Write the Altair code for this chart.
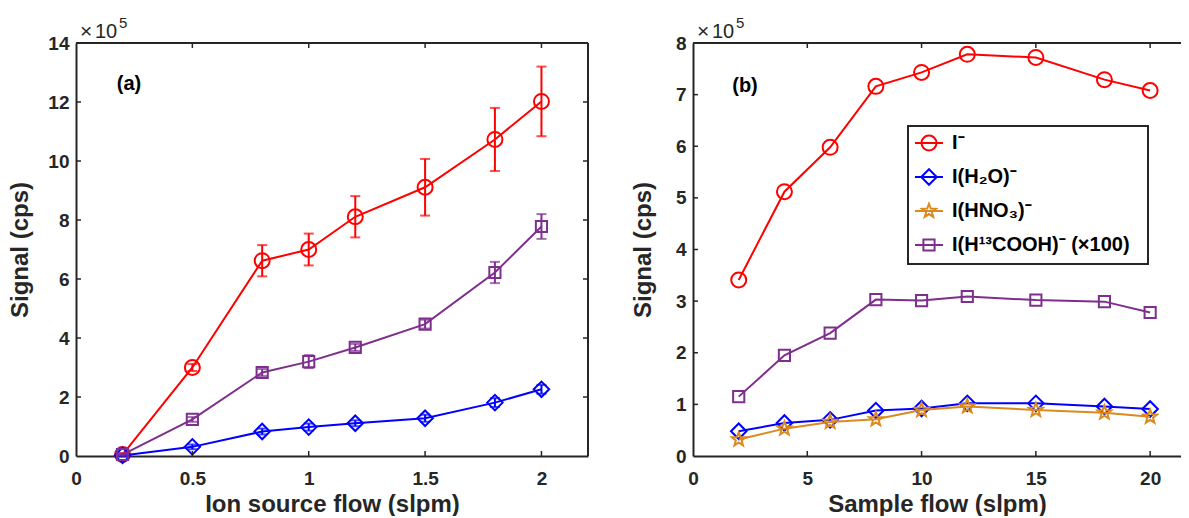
import math
import altair as alt
import pandas as pd

# ---------------- data ----------------
SERIES = ["I⁻", "I(H₂O)⁻", "I(HNO₃)⁻", "I(H¹³COOH)⁻ (×100)"]
COLORS = ["#FF0000", "#0000FF", "#DA8A1E", "#7E2F8E"]

# five-point star outline inside the [-1, 1] box (custom symbol shape)
_pts = []
for _k in range(10):
    _r = 1.0 if _k % 2 == 0 else 0.42
    _a = math.radians(-90 + 36 * _k)
    _pts.append("%.3f,%.3f" % (_r * math.cos(_a), _r * math.sin(_a)))
STAR = "M" + "L".join(_pts) + "Z"

SHAPES = ["circle", "diamond", STAR, "square"]
SIZES = [225, 240, 210, 125]

# panel (a): ion source flow (slpm), signal in units of 1e5 cps
a_x = [0.2, 0.5, 0.8, 1.0, 1.2, 1.5, 1.8, 2.0]
a_I = [0.05, 3.0, 6.62, 7.0, 8.11, 9.11, 10.73, 12.02]
a_I_err = [0.05, 0.12, 0.53, 0.54, 0.70, 0.96, 1.07, 1.18]
a_H2O = [0.02, 0.31, 0.83, 0.98, 1.11, 1.28, 1.81, 2.26]
a_H2O_err = [0.03, 0.08, 0.10, 0.12, 0.10, 0.12, 0.15, 0.15]
a_HCOOH = [0.05, 1.24, 2.83, 3.20, 3.68, 4.47, 6.22, 7.78]
a_HCOOH_err = [0.03, 0.08, 0.12, 0.22, 0.12, 0.15, 0.36, 0.42]

# panel (b): sample flow (slpm)
b_x = [2, 4, 6, 8, 10, 12, 15, 18, 20]
b_I = [3.41, 5.12, 5.98, 7.16, 7.43, 7.78, 7.72, 7.29, 7.08]
b_H2O = [0.48, 0.64, 0.70, 0.88, 0.92, 1.02, 1.02, 0.96, 0.91]
b_HNO3 = [0.32, 0.53, 0.66, 0.71, 0.89, 0.96, 0.89, 0.84, 0.76]
b_HCOOH = [1.15, 1.95, 2.38, 3.03, 3.01, 3.09, 3.02, 2.99, 2.78]

a_xticks = [0, 0.5, 1, 1.5, 2]
a_yticks = [0, 2, 4, 6, 8, 10, 12, 14]
b_xticks = [0, 5, 10, 15, 20]
b_yticks = [0, 1, 2, 3, 4, 5, 6, 7, 8]

# ---------------- layout / style ----------------
FONT = "Liberation Sans"
AX = "#262626"
W1, W2, H = 512, 488, 413
GAP = 105                 # space between the two plot areas
X0A, X0B = 0, W1 + GAP    # left edges of the plot areas
WTOT = X0B + W2
TL = 5                    # inward tick length


def make_panel(x, series_list, xdom, ydom, xticks, yticks, x0, W, xaxis, yaxis, label,
               right_frame):
    xs = alt.Scale(domain=xdom, range=[x0, x0 + W], nice=False, zero=False)
    ys = alt.Scale(domain=ydom, range=[H, 0], nice=False, zero=False)
    X = lambda f: alt.X(f, scale=xs, axis=xaxis)
    Y = lambda f: alt.Y(f, scale=ys, axis=yaxis)
    layers = []
    for k, yv, err in series_list:
        rows = []
        for i, xv in enumerate(x):
            e = err[i] if err is not None else 0.0
            rows.append({"x": xv, "y": yv[i], "lo": yv[i] - e, "hi": yv[i] + e})
        df = pd.DataFrame(rows)
        base = alt.Chart(df)
        layers.append(base.mark_line(color=COLORS[k], strokeWidth=2).encode(
            x=X("x:Q"), y=Y("y:Q")))
        if err is not None:
            layers.append(base.mark_rule(color=COLORS[k], strokeWidth=2).encode(
                x=X("x:Q"), y=Y("lo:Q"), y2="hi:Q"))
            for f in ("lo", "hi"):
                layers.append(base.mark_tick(color=COLORS[k], orient="horizontal",
                                             size=10, thickness=2).encode(
                    x=X("x:Q"), y=Y(f + ":Q")))
        layers.append(base.mark_point(color=COLORS[k], shape=SHAPES[k], size=SIZES[k],
                                      filled=False, strokeWidth=2, opacity=1).encode(
            x=X("x:Q"), y=Y("y:Q")))

    xt = pd.DataFrame({"t": [v for v in xticks if v != 0]})
    yt = pd.DataFrame({"t": [v for v in yticks if v not in (ydom[0], ydom[1])]})
    one = pd.DataFrame({"k": [0]})
    layers.append(alt.Chart(xt).mark_rule(color=AX, strokeWidth=1.5).encode(
        x=X("t:Q"), y=alt.value(H), y2=alt.value(H - TL)))
    layers.append(alt.Chart(xt).mark_rule(color=AX, strokeWidth=1.5).encode(
        x=X("t:Q"), y=alt.value(0), y2=alt.value(TL)))
    layers.append(alt.Chart(yt).mark_rule(color=AX, strokeWidth=1.5).encode(
        y=Y("t:Q"), x=alt.value(x0), x2=alt.value(x0 + TL)))
    if right_frame:
        layers.append(alt.Chart(yt).mark_rule(color=AX, strokeWidth=1.5).encode(
            y=Y("t:Q"), x=alt.value(x0 + W), x2=alt.value(x0 + W - TL)))
        layers.append(alt.Chart(one).mark_rule(color=AX, strokeWidth=2).encode(
            x=alt.value(x0 + W), y=alt.value(0), y2=alt.value(H)))
    layers.append(alt.Chart(one).mark_rule(color=AX, strokeWidth=2).encode(
        x=alt.value(x0), x2=alt.value(x0 + W), y=alt.value(0)))

    def txt(s, px, py, size, weight="normal", align="left", baseline="alphabetic",
            color=AX):
        return alt.Chart(one).mark_text(font=FONT, fontSize=size, fontWeight=weight,
                                        color=color, align=align,
                                        baseline=baseline).encode(
            x=alt.value(x0 + px), y=alt.value(py), text=alt.value(s))

    layers.append(txt("×", 4, -5, 21))
    layers.append(txt("10", 19, -5, 20))
    layers.append(txt("5", 43, -15, 15))
    layers.append(txt(label[0], label[1], label[2], 20, "bold", "center", "middle", "#000000"))
    return layers, txt


ax_a_x = alt.Axis(values=a_xticks, format="~g", title="Ion source flow (slpm)",
                  orient="bottom")
ax_a_y = alt.Axis(values=a_yticks, format="d", title="Signal (cps)", titlePadding=15,
                  orient="left")
ax_b_x = alt.Axis(values=b_xticks, format="d", title="Sample flow (slpm)",
                  orient="bottom")
ax_b_y = alt.Axis(values=b_yticks, format="d", title="Signal (cps)", titlePadding=20,
                  orient="left", offset=-X0B)

left_layers, _ = make_panel(
    a_x, [(0, a_I, a_I_err), (1, a_H2O, a_H2O_err), (3, a_HCOOH, a_HCOOH_err)],
    [0, 2.2], [0, 14], a_xticks, a_yticks, X0A, W1, ax_a_x, ax_a_y, ("(a)", 53, 41), True)
right_layers, txt_b = make_panel(
    b_x, [(0, b_I, None), (1, b_H2O, None), (2, b_HNO3, None), (3, b_HCOOH, None)],
    [0, 21.35], [0, 8], b_xticks, b_yticks, X0B, W2, ax_b_x, ax_b_y, ("(b)", 52, 43), False)

# manual legend in panel (b)
one = pd.DataFrame({"k": [0]})
right_layers.append(alt.Chart(one).mark_rect(fill="white", stroke=AX, strokeWidth=2).encode(
    x=alt.value(X0B + 215), x2=alt.value(X0B + 455), y=alt.value(83), y2=alt.value(221)))
for i, nm in enumerate(SERIES):
    yy = 100 + 34 * i
    right_layers.append(alt.Chart(one).mark_rule(color=COLORS[i], strokeWidth=2).encode(
        x=alt.value(X0B + 222), x2=alt.value(X0B + 250), y=alt.value(yy)))
    right_layers.append(alt.Chart(one).mark_point(filled=False, strokeWidth=2, opacity=1,
                                                  color=COLORS[i], shape=SHAPES[i],
                                                  size=SIZES[i]).encode(
        x=alt.value(X0B + 236), y=alt.value(yy)))
    right_layers.append(txt_b(nm, 259, yy, 20, "bold", "left", "middle", "#000000"))

panel_a = alt.layer(*left_layers)
panel_b = alt.layer(*right_layers)

chart = (
    alt.layer(panel_a, panel_b)
    .resolve_scale(x="independent", y="independent")
    .resolve_axis(x="independent", y="independent")
    .properties(
        width=WTOT, height=H,
        autosize=alt.AutoSizeParams(type="none"),
        padding={"left": 68, "top": 35, "right": 0, "bottom": 60},
        background="white",
    )
    .configure_view(stroke=None)
    .configure_axis(
        domainColor=AX, domainWidth=2, ticks=False, grid=False,
        labelFont=FONT, labelFontSize=19, labelFontWeight="bold", labelColor=AX,
        titleFont=FONT, titleFontSize=24, titleFontWeight="bold", titleColor=AX,
        labelFlush=False,
    )
    .configure_axisBottom(labelPadding=13, titlePadding=4)
    .configure_axisLeft(labelPadding=7)
)

chart.save("out.html", embed_options={"renderer": "svg", "actions": False})
